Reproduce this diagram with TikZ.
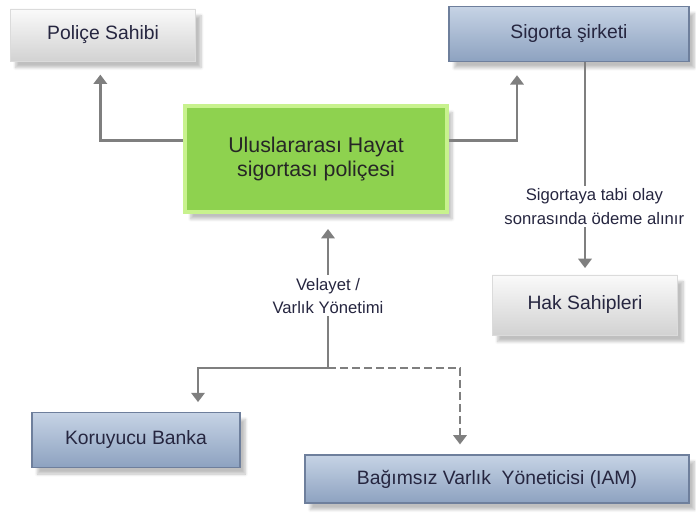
\documentclass[tikz,border=0pt]{standalone}
\usepackage{fontspec}
\setmainfont{Liberation Sans}
\usepackage{xcolor}
\usepackage{tikz}
\usetikzlibrary{arrows.meta, positioning, calc, shadows.blur}

\definecolor{textnavy}{HTML}{262640}
\definecolor{linegray}{HTML}{7F7F7F}
\definecolor{greyTop}{HTML}{FAFAFA}
\definecolor{greyBot}{HTML}{D2D2D2}
\definecolor{blueTop}{HTML}{C6D3E5}
\definecolor{blueBot}{HTML}{8DA2C0}
\definecolor{blueEdge}{HTML}{6E7F9C}
\definecolor{policyFill}{HTML}{8ED24F}
\definecolor{policyEdge}{HTML}{C8F28E}

\begin{document}
\begin{tikzpicture}[
    x=0.75pt, y=-0.75pt,
    basebox/.style={rectangle, inner sep=0pt, align=center, text=textnavy,
        font=\fontsize{14.5}{17}\selectfont,
        blur shadow={shadow xshift=4pt, shadow yshift=-5pt, shadow blur steps=6, shadow opacity=25}},
    greybox/.style={basebox, top color=greyTop, bottom color=greyBot, draw=greyBot!80},
    bluebox/.style={basebox, top color=blueTop, bottom color=blueBot, draw=blueEdge, line width=0.8pt},
    policybox/.style={basebox, fill=policyFill, draw=policyEdge, line width=3pt,
        font=\fontsize{16}{18}\selectfont, text=black!85},
    arrow/.style={-{Triangle[width=10pt,length=7pt]}, draw=linegray, line width=2.2pt},
    steplabel/.style={fill=white, inner sep=2pt, align=center, text=textnavy,
        font=\fontsize{12.5}{17.5}\selectfont}
]
    \useasboundingbox (0,0) rectangle (696,516);

    % Main components
    \node[policybox, minimum width=196pt, minimum height=80pt] (policy) at (316,159) {Uluslararası Hayat\\sigortası poliçesi};
    \node[greybox, minimum width=139pt, minimum height=39pt] (holder) at (103,35) {Poliçe Sahibi};
    \node[bluebox, minimum width=180pt, minimum height=41pt] (insurer) at (569,34) {Sigorta şirketi};
    \node[greybox, minimum width=139pt, minimum height=45pt] (heirs) at (585,305) {Hak Sahipleri};
    \node[bluebox, minimum width=156pt, minimum height=41pt] (bank) at (136,440) {Koruyucu Banka};
    \node[bluebox, minimum width=288pt, minimum height=36pt] (iam) at (497,479) {Bağımsız Varlık\ \ Yöneticisi (IAM)};
    \coordinate (split) at (328,368);

    % Arrows
    \draw[arrow, shorten >=10pt] ([yshift=14pt]policy.west) -| ([xshift=-2pt]holder.south);
    \draw[arrow, shorten >=10pt] ([yshift=14pt]policy.east) -| ([xshift=-39pt]insurer.south);
    \draw[arrow, shorten >=5pt] (insurer.south -| heirs.north) -- node[steplabel, pos=0.68, xshift=7pt] {Sigortaya tabi olay\\sonrasında ödeme alınır} (heirs.north);
    \draw[arrow, shorten >=11pt] (split) -- node[steplabel, pos=0.47] {Velayet /\\Varlık Yönetimi} (policy.south -| split);
    \draw[arrow, shorten >=7.5pt] (split) -| ([xshift=46.5pt]bank.north);
    \draw[arrow, dashed, dash pattern=on 6pt off 3pt, shorten >=7.5pt] (split) -| ([xshift=-27.75pt]iam.north);
\end{tikzpicture}
\end{document}
